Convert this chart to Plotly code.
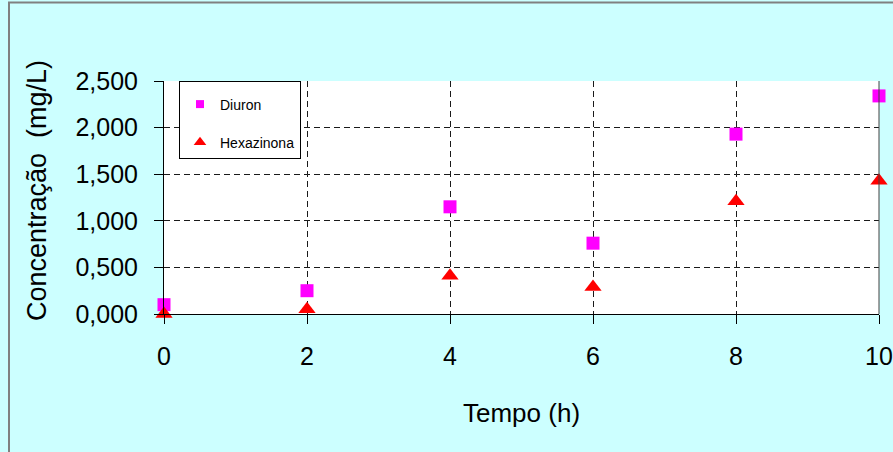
import plotly.graph_objects as go

# ---- data ----
tempo_h = [0, 2, 4, 6, 8, 10]
diuron = [0.10, 0.25, 1.15, 0.76, 1.93, 2.34]
hexazinona = [0.00, 0.05, 0.41, 0.29, 1.21, 1.43]
y_tick_vals = [0.0, 0.5, 1.0, 1.5, 2.0, 2.5]
y_tick_text = ["0,000", "0,500", "1,000", "1,500", "2,000", "2,500"]
x_tick_vals = [0, 2, 4, 6, 8, 10]
x_tick_text = ["0", "2", "4", "6", "8", "10"]

FONT = "Liberation Sans, Arial, sans-serif"
W, H = 893, 452
L, R, T, B = 164, 14, 81, 138
PW, PH = W - L - R, H - T - B

def px_to_paper_x(px):
    return (px - L) / PW

def px_to_paper_y(py):
    return (H - B - py) / PH

fig = go.Figure()

# data traces (no legend)
fig.add_trace(go.Scatter(x=tempo_h, y=diuron, mode="markers", name="Diuron",
                         marker=dict(symbol="square", size=13, color="#FF00FF"),
                         showlegend=False, cliponaxis=False))
fig.add_trace(go.Scatter(x=tempo_h, y=hexazinona, mode="markers", name="Hexazinona",
                         marker=dict(symbol="triangle-up", size=15, color="#FF0000"),
                         showlegend=False, cliponaxis=False))
# legend entries (smaller markers like the reference legend)
fig.add_trace(go.Scatter(x=[None], y=[None], mode="markers", name="Diuron",
                         marker=dict(symbol="square", size=8, color="#FF00FF"),
                         legendgroup="d"))
fig.add_trace(go.Scatter(x=[None], y=[None], mode="markers", name="Hexazinona",
                         marker=dict(symbol="triangle-up", size=11, color="#FF0000"),
                         legendgroup="h"))

fig.update_layout(
    width=W, height=H,
    margin=dict(l=L, r=R, t=T, b=B, autoexpand=False),
    paper_bgcolor="#CCFFFF",
    plot_bgcolor="#FFFFFF",
    font=dict(family=FONT, color="#000000"),
    showlegend=True,
    legend=dict(
        x=px_to_paper_x(179), y=1.0, xanchor="left", yanchor="top",
        bgcolor="#FFFFFF", bordercolor="#000000", borderwidth=1,
        font=dict(family=FONT, size=14, color="#000000"),
        tracegroupgap=17, itemwidth=30,
        title=dict(text="\u00a0", font=dict(size=5)),
    ),
    xaxis=dict(
        range=[0, 10], tickvals=x_tick_vals, ticktext=x_tick_text,
        showline=True, linecolor="#000000", linewidth=1,
        ticks="outside", ticklen=9, tickcolor="#000000", tickwidth=1,
        showgrid=True, gridcolor="#1a1a1a", gridwidth=1, griddash="6px,4px",
        zeroline=False, tickfont=dict(family=FONT, size=25),
        ticklabelstandoff=11,
    ),
    yaxis=dict(
        range=[0, 2.5], tickvals=y_tick_vals, ticktext=y_tick_text,
        showline=True, linecolor="#000000", linewidth=1,
        ticks="outside", ticklen=9, tickcolor="#000000", tickwidth=1,
        showgrid=True, gridcolor="#1a1a1a", gridwidth=1, griddash="6px,4px",
        zeroline=False, tickfont=dict(family=FONT, size=25),
        ticklabelstandoff=11,
    ),
    annotations=[
        dict(text="Concentração\u00a0\u00a0(mg/L)", xref="paper", yref="paper",
             x=px_to_paper_x(37), y=px_to_paper_y(191), textangle=-90,
             showarrow=False, xanchor="center", yanchor="middle",
             font=dict(family=FONT, size=27)),
        dict(text="Tempo (h)", xref="paper", yref="paper",
             x=0.5, y=px_to_paper_y(413), showarrow=False,
             xanchor="center", yanchor="middle",
             font=dict(family=FONT, size=26)),
    ],
    shapes=[
        # outer chart border (gray)
        dict(type="rect", xref="paper", yref="paper",
             x0=px_to_paper_x(9), x1=px_to_paper_x(W + 20),
             y0=px_to_paper_y(H + 20), y1=px_to_paper_y(2.5),
             line=dict(color="#808080", width=2), layer="below"),
        # plot-area right edge
        dict(type="line", xref="paper", yref="paper", x0=1, x1=1, y0=0, y1=1,
             line=dict(color="#404040", width=1)),
    ],
)

fig.write_html("out.html")
